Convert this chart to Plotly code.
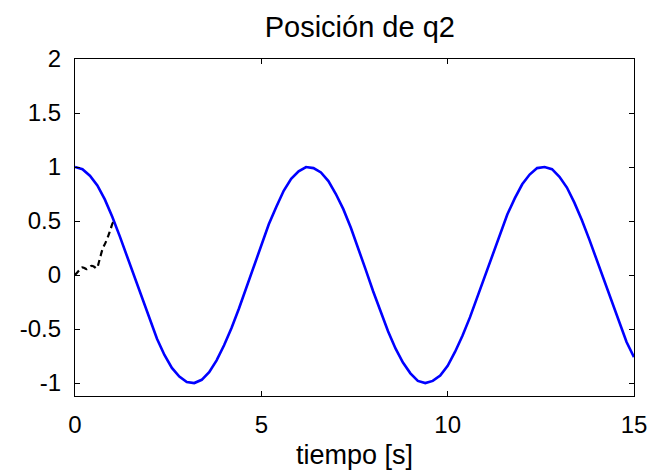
import plotly.graph_objects as go

# Reference trajectory of q2 (blue), sampled every 0.2 s
t_ref = [round(0.2 * i, 1) for i in range(76)]
q2_ref = [1.00, 0.98, 0.92, 0.83, 0.70, 0.54, 0.36, 0.17, -0.03, -0.23,
          -0.42, -0.59, -0.74, -0.86, -0.94, -0.99, -1.00, -0.97, -0.90, -0.79,
          -0.65, -0.49, -0.31, -0.11, 0.09, 0.28, 0.47, 0.63, 0.78, 0.89,
          0.96, 1.00, 0.99, 0.95, 0.87, 0.75, 0.61, 0.44, 0.25, 0.05,
          -0.15, -0.34, -0.52, -0.68, -0.81, -0.91, -0.98, -1.00, -0.98, -0.93,
          -0.84, -0.71, -0.56, -0.39, -0.20, 0.00, 0.20, 0.39, 0.56, 0.71,
          0.84, 0.93, 0.99, 1.00, 0.98, 0.91, 0.81, 0.67, 0.51, 0.33,
          0.14, -0.06, -0.26, -0.45, -0.62, -0.76]

# Measured q2 during the first second (black dashed)
t_meas = [0.0, 0.1, 0.18, 0.25, 0.31, 0.38, 0.45, 0.52, 0.58, 0.65, 0.74, 0.82,
          0.89, 0.96, 1.03, 1.08]
q2_meas = [0.0, 0.04, 0.07, 0.065, 0.055, 0.07, 0.086, 0.075, 0.062, 0.13, 0.24,
           0.30, 0.36, 0.43, 0.49, 0.47]

FONT = "Liberation Sans, Arial, sans-serif"

fig = go.Figure()
fig.add_trace(go.Scatter(x=t_ref, y=q2_ref, mode="lines",
                         line=dict(color="#0000ff", width=2.6), showlegend=False))
fig.add_trace(go.Scatter(x=t_meas, y=q2_meas, mode="lines", line_shape="spline",
                         line=dict(color="black", width=2.2, dash="6px,4px"),
                         showlegend=False))

axis_common = dict(showline=True, linecolor="black", linewidth=1.2, mirror="ticks",
                   ticks="inside", ticklen=5, tickcolor="black", tickwidth=1,
                   showgrid=False, zeroline=False, automargin=False,
                   tickfont=dict(family=FONT, size=24, color="black"))

fig.update_xaxes(range=[0, 15], tickvals=[0, 5, 10, 15], ticklabelstandoff=7,
                 title=dict(text="tiempo [s]", standoff=8,
                            font=dict(family=FONT, size=27, color="black")),
                 **axis_common)
fig.update_yaxes(range=[-1.12, 2], tickvals=[-1, -0.5, 0, 0.5, 1, 1.5, 2],
                 ticktext=["-1", "-0.5", "0", "0.5", "1", "1.5", "2"],
                 ticklabelstandoff=8, **axis_common)

fig.update_layout(
    width=653, height=476,
    margin=dict(l=75, r=19, t=59, b=80),
    paper_bgcolor="white", plot_bgcolor="white",
    title=dict(text="Posición de q2", x=0.551, xanchor="center",
               y=1 - 27 / 476, yanchor="middle", yref="container",
               font=dict(family=FONT, size=29, color="black")),
)

fig.write_html("out.html")
